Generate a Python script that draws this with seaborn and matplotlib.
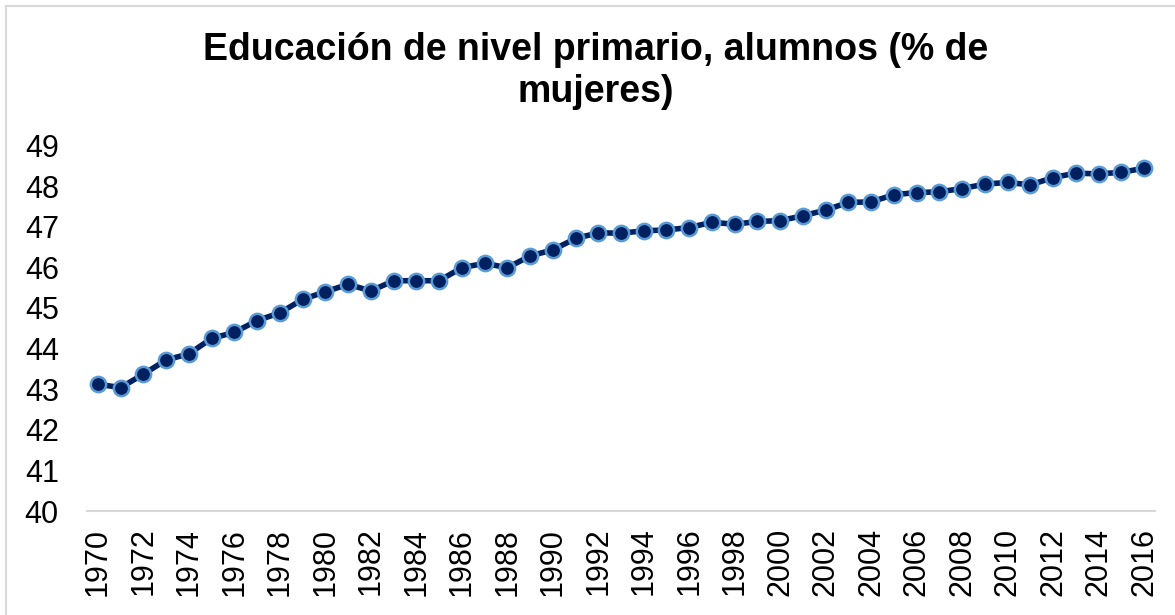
import matplotlib
matplotlib.use("Agg")
import matplotlib.pyplot as plt
import seaborn as sns
import pandas as pd
from matplotlib.patches import Rectangle

years = list(range(1970, 2017))
values = [43.12, 43.04, 43.37, 43.72, 43.87, 44.25, 44.40, 44.69, 44.88, 45.21,
          45.40, 45.58, 45.42, 45.67, 45.67, 45.67, 45.99, 46.10, 45.99, 46.28,
          46.43, 46.71, 46.85, 46.84, 46.90, 46.92, 46.98, 47.11, 47.06, 47.13,
          47.15, 47.27, 47.41, 47.60, 47.61, 47.79, 47.84, 47.86, 47.94, 48.05,
          48.09, 48.03, 48.21, 48.32, 48.30, 48.34, 48.44]
yticks = list(range(40, 50))
xtick_labels = [str(y) for y in years if y % 2 == 0]
title = "Educación de nivel primario, alumnos (% de\nmujeres)"

sns.set_theme(style="white")
plt.rcParams['font.family'] = ['Liberation Sans', 'DejaVu Sans']
plt.rcParams['text.color'] = 'black'
plt.rcParams['xtick.color'] = 'black'
plt.rcParams['ytick.color'] = 'black'

df = pd.DataFrame({"year": years, "value": values})

fig = plt.figure(figsize=(11.75, 6.15), dpi=100)
ax = fig.add_axes([86.6 / 1175, 1 - 511 / 615, (1155.4 - 86.6) / 1175, (511 - 145.5) / 615])

sns.lineplot(data=df, x="year", y="value", ax=ax, color="#002060", linewidth=4.0,
             marker="o", markersize=11, markerfacecolor="#002060",
             markeredgecolor="#5B9BD5", markeredgewidth=1.8)

ax.set_xlim(1969.5, 2016.5)
ax.set_ylim(40, 49)
ax.set_yticks(yticks)
ax.set_yticklabels([str(t) for t in yticks], fontsize=22, color="black")
ax.set_xticks([y for y in years if y % 2 == 0])
ax.set_xticklabels(xtick_labels, rotation=90, fontsize=22, color="black")
ax.tick_params(axis="x", length=0, pad=12)
ax.tick_params(axis="y", length=0, pad=20)
ax.set_xlabel("")
ax.set_ylabel("")
for s in ["top", "right", "left"]:
    ax.spines[s].set_visible(False)
ax.spines["bottom"].set_color("#D9D9D9")
ax.spines["bottom"].set_linewidth(1.5)
ax.grid(False)

fig.text(596 / 1175, 1 - 71 / 615, title, ha="center", va="center",
         fontsize=27, fontweight="bold", linespacing=1.25, color="black")

fig.patches.append(Rectangle((6 / 1175, -0.05), 1.1, 1 - 6 / 615 + 0.05,
                             transform=fig.transFigure, fill=False,
                             edgecolor="#D9D9D9", linewidth=1.5))

fig.savefig("out.png", dpi=100, facecolor="white")
